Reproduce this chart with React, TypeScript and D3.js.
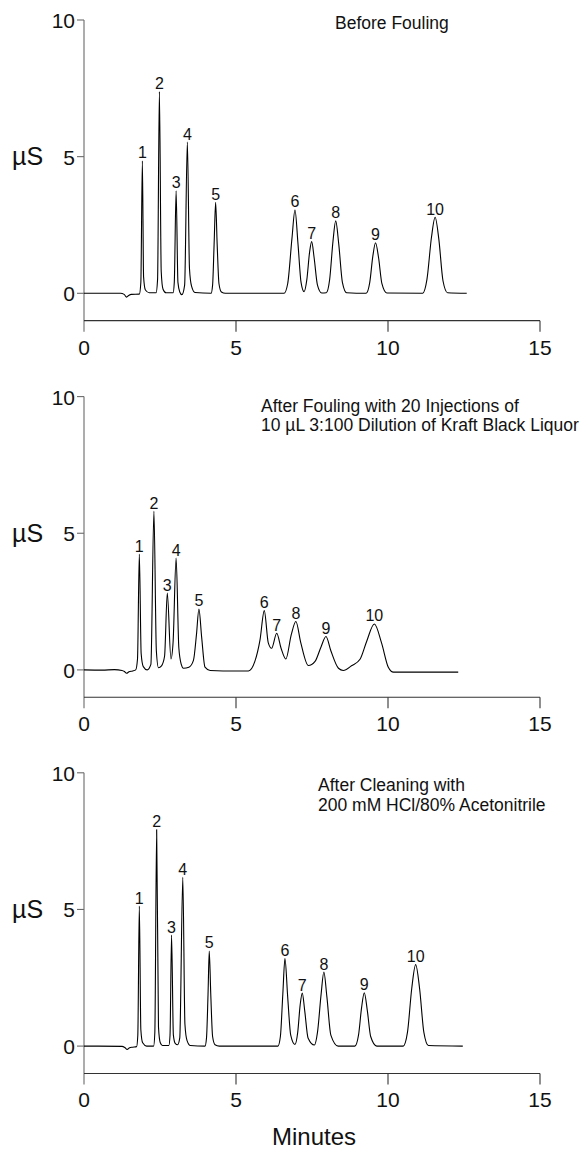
import React from "react";
import * as d3 from "d3";

type Pt = [number, number];
type Peak = [string, number, number];

// ---- data (minutes, µS) ----
const xTicks = [0, 5, 10, 15];
const yTicks = [0, 5, 10];

const titles: string[][] = [
  ["Before Fouling"],
  ["After Fouling with 20 Injections of", "10 µL 3:100 Dilution of Kraft Black Liquor"],
  ["After Cleaning with", "200 mM HCl/80% Acetonitrile"],
];

const traceBefore: Pt[] = [
  [0, 0], [1.2, 0], [1.32, -0.04], [1.4, -0.14], [1.47, -0.08], [1.56, -0.04], [1.82, -0.03],
  [1.87, 0.4], [1.92, 4.85], [1.96, 0.6], [2.02, 0.12], [2.15, 0.02], [2.37, 0.02],
  [2.42, 0.5], [2.48, 7.38], [2.54, 0.8], [2.6, 0.15], [2.7, 0.02], [2.93, 0.02],
  [2.97, 0.4], [3.03, 3.75], [3.09, 0.4], [3.15, 0.05], [3.22, -0.05],
  [3.31, 0.3], [3.4, 5.53], [3.47, 0.9], [3.54, 0.25], [3.65, 0.03],
  [4.18, 0], [4.23, 0.3], [4.28, 1.8], [4.33, 3.33], [4.38, 1.8], [4.44, 0.35], [4.52, 0.05], [4.65, 0],
  [6.58, 0], [6.7, 0.35], [6.84, 2.0], [6.94, 3.05], [7.04, 1.8], [7.14, 0.4], [7.24, 0.06],
  [7.33, 0.5], [7.42, 1.5], [7.49, 1.89], [7.57, 1.3], [7.68, 0.3], [7.82, 0.01], [7.97, 0.02],
  [8.08, 0.5], [8.19, 1.9], [8.28, 2.65], [8.38, 1.8], [8.5, 0.4], [8.64, 0.02],
  [9.28, 0], [9.4, 0.4], [9.5, 1.35], [9.59, 1.85], [9.69, 1.3], [9.8, 0.35], [9.96, 0.01],
  [11.14, 0], [11.28, 0.5], [11.43, 2.05], [11.55, 2.78], [11.67, 2.0], [11.81, 0.45], [11.96, 0.02], [12.59, 0],
];

const traceFouled: Pt[] = [
  [0, 0], [0.6, -0.01], [1.0, 0.01], [1.25, -0.02], [1.33, -0.06], [1.4, -0.12], [1.48, -0.07], [1.6, -0.04], [1.7, 0.0],
  [1.76, 0.4], [1.82, 4.24], [1.88, 0.6], [1.95, 0.12], [2.08, 0.0],
  [2.2, 0.2], [2.3, 5.8], [2.38, 0.7], [2.45, 0.08], [2.55, 0.15],
  [2.65, 0.5], [2.74, 2.81], [2.86, 0.4], [2.93, 1.0],
  [3.03, 4.09], [3.12, 0.8], [3.2, 0.2], [3.27, 0.06], [3.45, 0.1],
  [3.6, 0.35], [3.7, 1.3], [3.78, 2.23], [3.87, 1.2], [3.98, 0.1], [4.15, -0.02], [5.0, -0.04], [5.41, -0.04],
  [5.62, 0.31], [5.79, 1.1], [5.93, 2.17], [6.06, 1.0], [6.17, 0.79], [6.34, 1.34], [6.48, 0.8], [6.64, 0.4],
  [6.82, 1.3], [6.97, 1.77], [7.13, 1.0], [7.38, 0.16], [7.6, 0.31], [7.8, 0.85], [7.96, 1.22], [8.12, 0.7],
  [8.37, 0.06], [8.53, -0.02], [8.8, 0.15], [9.08, 0.39], [9.3, 1.05], [9.55, 1.68], [9.79, 0.98],
  [10.01, 0.1], [10.18, -0.08], [12.31, -0.08],
];

const traceCleaned: Pt[] = [
  [0, 0], [1.25, -0.01], [1.34, -0.05], [1.42, -0.12], [1.5, -0.06], [1.6, -0.04], [1.73, -0.02],
  [1.77, 0.4], [1.82, 5.12], [1.87, 0.6], [1.93, 0.12], [2.06, 0.0], [2.29, 0.0],
  [2.33, 0.5], [2.39, 7.92], [2.45, 0.7], [2.51, 0.12], [2.58, 0.02], [2.79, 0.02],
  [2.83, 0.4], [2.88, 4.06], [2.94, 0.4], [3.0, 0.1], [3.08, 0.05], [3.15, 0.3],
  [3.25, 6.18], [3.32, 0.8], [3.39, 0.2], [3.5, 0.02], [3.98, 0.0],
  [4.03, 0.3], [4.08, 1.9], [4.12, 3.48], [4.17, 1.9], [4.23, 0.35], [4.31, 0.05], [4.45, 0],
  [6.38, 0], [6.46, 0.35], [6.54, 1.9], [6.61, 3.2], [6.7, 1.8], [6.8, 0.4], [6.94, 0.06],
  [7.03, 0.5], [7.11, 1.5], [7.18, 1.94], [7.26, 1.3], [7.37, 0.3], [7.58, 0.04],
  [7.68, 0.5], [7.8, 1.9], [7.89, 2.71], [7.99, 1.8], [8.12, 0.4], [8.36, 0.0],
  [8.91, 0], [9.03, 0.4], [9.13, 1.4], [9.22, 1.95], [9.32, 1.3], [9.43, 0.35], [9.63, 0.0],
  [10.5, 0], [10.64, 0.5], [10.78, 2.1], [10.91, 2.98], [11.04, 2.1], [11.18, 0.5], [11.33, 0.02], [12.46, 0],
];

const peaksBefore: Peak[] = [
  ["1", 1.92, 4.85], ["2", 2.48, 7.38], ["3", 3.03, 3.75], ["4", 3.4, 5.53], ["5", 4.33, 3.33],
  ["6", 6.94, 3.05], ["7", 7.49, 1.89], ["8", 8.28, 2.65], ["9", 9.59, 1.85], ["10", 11.55, 2.78],
];
const peaksFouled: Peak[] = [
  ["1", 1.82, 4.24], ["2", 2.3, 5.8], ["3", 2.74, 2.81], ["4", 3.03, 4.09], ["5", 3.78, 2.23],
  ["6", 5.93, 2.17], ["7", 6.34, 1.34], ["8", 6.97, 1.77], ["9", 7.96, 1.22], ["10", 9.55, 1.68],
];
const peaksCleaned: Peak[] = [
  ["1", 1.82, 5.12], ["2", 2.39, 7.92], ["3", 2.88, 4.06], ["4", 3.25, 6.18], ["5", 4.12, 3.48],
  ["6", 6.61, 3.2], ["7", 7.18, 1.94], ["8", 7.89, 2.71], ["9", 9.22, 1.95], ["10", 10.91, 2.98],
];

const traces = [traceBefore, traceFouled, traceCleaned];
const peaks = [peaksBefore, peaksFouled, peaksCleaned];

// ---- layout ----
const W = 584;
const H = 1152;
const panelTops = [20, 396.6, 772.8];
const unit = 27.33;
const titlePos = [
  { x: 335, dy: 9, lh: 19 },
  { x: 261, dy: 15, lh: 19 },
  { x: 318, dy: 18, lh: 20 },
];
const FONT = "'Liberation Sans', Arial, Helvetica, sans-serif";

const x = d3.scaleLinear().domain([0, 15]).range([84, 540]);

function Panel({ idx }: { idx: number }) {
  const top = panelTops[idx];
  const y = d3.scaleLinear().domain([-1, 10]).range([top + 11 * unit, top]);
  const line = d3
    .line<Pt>()
    .x((d) => x(d[0]))
    .y((d) => y(d[1]))
    .curve(d3.curveMonotoneX);
  const axisY = y(-1);
  const tp = titlePos[idx];
  return (
    <g>
      {/* y axis */}
      <line x1={x(0)} x2={x(0)} y1={y(10)} y2={axisY + 11} stroke="#6a6a6a" strokeWidth={1.1} />
      {yTicks.map((t) => (
        <g key={"y" + t}>
          <line x1={x(0) - 7} x2={x(0)} y1={y(t)} y2={y(t)} stroke="#6a6a6a" strokeWidth={1.1} />
          <text x={x(0) - 9} y={y(t) + 8} textAnchor="end" fontSize={21} fill="#111">
            {t}
          </text>
        </g>
      ))}
      <text x={12} y={y(5) + 8.5} fontSize={25} fill="#111">
        µS
      </text>
      {/* x axis */}
      <line x1={x(0)} x2={x(15)} y1={axisY} y2={axisY} stroke="#333" strokeWidth={1.1} />
      {xTicks.map((t) => (
        <g key={"x" + t}>
          {t > 0 && <line x1={x(t)} x2={x(t)} y1={axisY} y2={axisY + 11} stroke="#333" strokeWidth={1.1} />}
          <text x={x(t)} y={axisY + 34} textAnchor="middle" fontSize={21} fill="#111">
            {t}
          </text>
        </g>
      ))}
      {/* trace */}
      <path d={line(traces[idx]) || ""} fill="none" stroke="#000" strokeWidth={1.1} strokeLinejoin="round" />
      {/* peak labels */}
      {peaks[idx].map((p) => (
        <text key={"p" + p[0]} x={x(p[1])} y={y(p[2]) - 2.5} textAnchor="middle" fontSize={16} fill="#111">
          {p[0]}
        </text>
      ))}
      {/* title */}
      {titles[idx].map((s, i) => (
        <text key={"t" + i} x={tp.x} y={top + tp.dy + i * tp.lh} fontSize={17.5} fill="#111">
          {s}
        </text>
      ))}
    </g>
  );
}

export default function App() {
  return (
    <svg
      width={W}
      height={H}
      viewBox={`0 0 ${W} ${H}`}
      style={{ position: "absolute", left: 0, top: 0, background: "#fff" }}
      fontFamily={FONT}
    >
      <rect width={W} height={H} fill="#fff" />
      {[0, 1, 2].map((i) => (
        <Panel key={i} idx={i} />
      ))}
      <text x={314} y={1145} textAnchor="middle" fontSize={24} fill="#111">
        Minutes
      </text>
    </svg>
  );
}
